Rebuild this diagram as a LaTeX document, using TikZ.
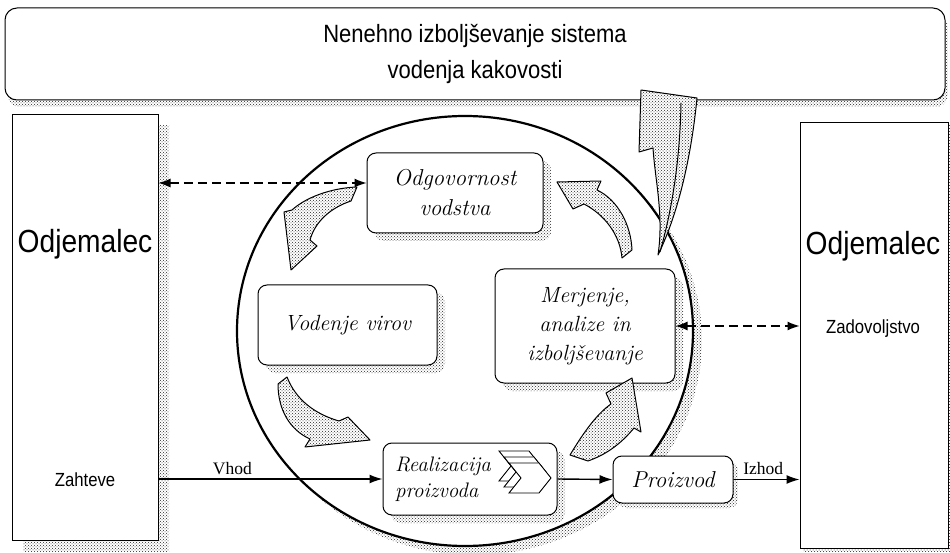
\documentclass[tikz,border=0pt]{standalone}
\usepackage{fontspec}
\newfontfamily\narrowsf[FakeStretch=0.88]{Liberation Sans}
\newfontfamily\timesf{Liberation Serif}
\usetikzlibrary{shapes.geometric,positioning,arrows.meta,patterns,shadows}

\begin{document}
\begin{tikzpicture}[x=1pt, y=-1pt,
    box/.style={rectangle, draw, line width=1pt, fill=white, rounded corners=9pt, align=center, font=\fontsize{22}{30}\selectfont\itshape},
    custbox/.style={rectangle, draw, line width=1pt, fill=white, minimum width=146pt, minimum height=425pt},
    custname/.style={font=\narrowsf\fontsize{32}{36}\selectfont},
    custsmall/.style={font=\narrowsf\fontsize{19}{22}\selectfont},
    tag/.style={font=\timesf\fontsize{17.5}{20}\selectfont, inner sep=4pt},
    stip/.style={pattern=crosshatch dots, pattern color=black!85},
    shad/.style={drop shadow={shadow xshift=#1, shadow yshift=-#1, opacity=1, stip}},
    shad/.default=8pt,
    arrow/.style={-{Latex[length=13pt, width=9pt]}, line width=1.4pt},
    dasharrow/.style={{Latex[length=12pt, width=9pt]}-{Latex[length=12pt, width=9pt]}, dash pattern=on 9pt off 5pt, line width=1.2pt},
    fatarrow/.style={draw, line width=1pt, line join=round, preaction={fill=white}, stip},
]
\useasboundingbox (0,0) rectangle (950,553);

% Banner on top
\node[rectangle, draw, line width=1pt, fill=white, rounded corners=12pt, minimum width=940pt, minimum height=92pt,
      align=center, font=\narrowsf\fontsize{25}{36}\selectfont,
      drop shadow={shadow xshift=3pt, shadow yshift=-7pt, opacity=1, stip}] (banner) at (475,54)
      {Nenehno izboljševanje sistema\\vodenja kakovosti};

% Customers left and right
\node[custbox, shad=11pt] (custL) at (85,327.5) {};
\node[custbox, minimum width=148pt, shad=3pt] (custR) at (874,335.5) {};
\node[custname] (custLname) at (85,244) {Odjemalec};
\node[custsmall] (req) at (85,480) {Zahteve};
\node[custname] (custRname) at (873,246) {Odjemalec};
\node[custsmall] (satis) at (873,329) {Zadovoljstvo};

% The big cycle
\node[ellipse, draw, fill=white, line width=2.2pt, minimum width=456pt, minimum height=430pt, shad=9pt] (pdca) at (465,331) {};

% Process boxes
\node[box, shad, minimum width=176pt, minimum height=80pt, font=\fontsize{23}{30}\selectfont\itshape] (lead) at (455,193) {Odgovornost\\vodstva};
\node[box, shad, minimum width=179pt, minimum height=80pt] (res) at (347.5,325) {Vodenje virov};
\node[box, shad, minimum width=180pt, minimum height=114pt, font=\fontsize{22}{29}\selectfont\itshape] (meas) at (585,326) {Merjenje,\\analize in\\izboljševanje};
\node[box, shad, minimum width=174pt, minimum height=72pt] (real) at (470,479) {};
\node[align=left, anchor=west, font=\fontsize{21}{26}\selectfont\itshape] (realtxt) at ([xshift=9pt]real.west) {Realizacija\\proizvoda};
\node[box, shad=5pt, minimum width=120pt, minimum height=47pt, font=\fontsize{23}{28}\selectfont\itshape] (prod) at (673,479.5) {Proizvod};

% Stacked chevrons
\foreach \dx/\dy in {0/0,5/6,10/12}
  \draw[fill=white, line width=0.9pt] (499+\dx,451+\dy) -- ++(30,0) -- ++(12,15) -- ++(-12,15) -- ++(-30,0) -- ++(12,-15) -- cycle;

% Curved block arrows
\draw[fatarrow] (357,187) .. controls (330,188) and (305,198) .. (292,210) -- (284,212) -- (291,270) -- (317,246) -- (310,240) .. controls (315,222) and (330,208) .. (351,201) -- cycle;
\draw[fatarrow] (287,377) -- (278,384) .. controls (278,410) and (290,430) .. (310,439) -- (305,447) -- (370,440) -- (348,417) -- (339,421) .. controls (315,414) and (296,400) .. (287,377) -- cycle;
\draw[fatarrow] (570,455) .. controls (585,430) and (598,413) .. (611,404) -- (606,393) -- (632,378) -- (641,432) -- (634,428) .. controls (620,445) and (605,455) .. (588,461) -- cycle;
\draw[fatarrow] (557,182) -- (601,181) -- (597,190) .. controls (618,200) and (631,225) .. (632,250) -- (622,258) .. controls (620,235) and (605,215) .. (584,204) -- (573,209) -- cycle;
\draw[fatarrow] (658,255) .. controls (664,215) and (655,180) .. (653,148) -- (639,152) -- (641,90) -- (697,98) .. controls (692,150) and (680,210) .. (658,255) -- cycle;
\draw[line width=1pt] (681,103) .. controls (680,160) and (672,210) .. (660,252);

% Flow of the product
\draw[arrow] (custL.east |- real.west) -- node[tag, above, pos=0.33] {Vhod} (real.west);
\draw[arrow] (real.east) -- (prod.west);
\draw[arrow] (prod.east) -- node[tag, above, pos=0.45] {Izhod} (prod.east -| custR.west);

% Information links
\coordinate (leadin) at ([yshift=10pt]lead.west);
\draw[dasharrow] (custL.east |- leadin) -- (leadin);
\draw[dasharrow] (meas.east) -- (meas.east -| custR.west);

\end{tikzpicture}
\end{document}
